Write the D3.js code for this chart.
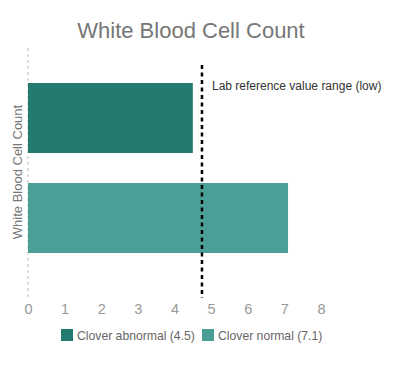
<!DOCTYPE html>
<html><head><meta charset="utf-8">
<script src="https://cdn.jsdelivr.net/npm/d3@7/dist/d3.min.js"></script>
<style>body{margin:0;background:#fff;} text{font-family:"Liberation Sans",Arial,sans-serif;}</style>
</head><body><svg id="c" width="412" height="365"></svg>
<script>
const categories = ["Clover abnormal", "Clover normal"];
const values = [4.5, 7.1];
const colors = ["#237b70", "#4aa096"];
const xTicks = [0,1,2,3,4,5,6,7,8];
const refValue = 4.75;
const refLabel = "Lab reference value range (low)";
const title = "White Blood Cell Count";
const yTitle = "White Blood Cell Count";

const svg = d3.select("#c");
const x = d3.scaleLinear().domain([0, 8]).range([28, 321]);
const y = d3.scaleBand().domain(categories).range([53, 283]).paddingInner(0.3).paddingOuter(0.3);

svg.append("text").attr("x", 191).attr("y", 38).attr("text-anchor", "middle")
  .attr("font-size", 22).attr("fill", "#777").text(title);

// y axis dashed line
svg.append("line").attr("x1", x(0)).attr("x2", x(0)).attr("y1", 48).attr("y2", 297)
  .attr("stroke", "#bbb").attr("stroke-width", 1).attr("stroke-dasharray", "3,3");

svg.selectAll("rect.bar").data(categories).enter().append("rect").attr("class", "bar")
  .attr("x", x(0)).attr("y", d => y(d)).attr("height", y.bandwidth())
  .attr("width", (d, i) => x(values[i]) - x(0)).attr("fill", (d, i) => colors[i]);

// reference line
svg.append("line").attr("x1", x(refValue)).attr("x2", x(refValue)).attr("y1", 65).attr("y2", 298)
  .attr("stroke", "#000").attr("stroke-width", 2.5).attr("stroke-dasharray", "4,3.5");
svg.append("text").attr("x", x(refValue) + 10).attr("y", 90).attr("font-size", 12)
  .attr("fill", "#333").text(refLabel);

// x axis
const xAxis = d3.axisBottom(x).tickValues(xTicks).tickSize(0).tickPadding(0).tickFormat(d3.format("d"));
const gx = svg.append("g").attr("transform", "translate(0,304)").call(xAxis);
gx.select(".domain").remove();
gx.selectAll("text").attr("font-size", 14.5).attr("fill", "#999").attr("font-family", "Liberation Sans, Arial, sans-serif").attr("dy", "0.71em");

// y title
svg.append("text").attr("transform", "translate(22,172) rotate(-90)").attr("text-anchor", "middle")
  .attr("font-size", 13).attr("fill", "#777").text(yTitle);

// legend
const legendX = [61, 202];
const lg = svg.selectAll("g.leg").data(categories).enter().append("g").attr("class", "leg")
  .attr("transform", (d, i) => `translate(${legendX[i]},329)`);
lg.append("rect").attr("width", 12).attr("height", 12).attr("fill", (d, i) => colors[i]);
lg.append("text").attr("x", 16).attr("y", 10.5).attr("font-size", 12.2).attr("fill", "#666")
  .text((d, i) => `${d} (${values[i]})`);
</script></body></html>
